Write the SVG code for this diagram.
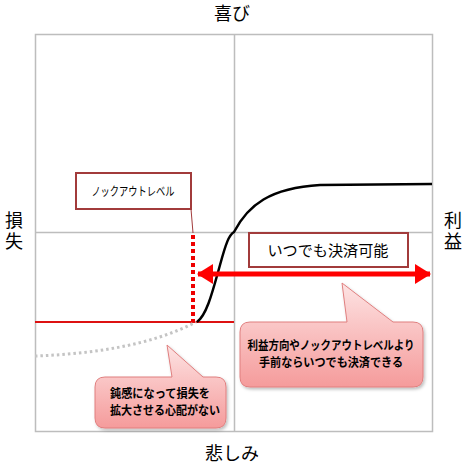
<svg xmlns="http://www.w3.org/2000/svg" width="466" height="466" viewBox="0 0 466 466">
<defs>
<linearGradient id="pink" x1="0" y1="0" x2="0" y2="1">
<stop offset="0" stop-color="#fde3e3"/>
<stop offset="1" stop-color="#f59b9b"/>
</linearGradient>
<filter id="sh" x="-10%" y="-10%" width="130%" height="130%">
<feDropShadow dx="1.5" dy="2" stdDeviation="1.5" flood-color="#000" flood-opacity="0.25"/>
</filter>
<marker id="ah" viewBox="0 0 16 20" refX="15" refY="10" markerWidth="16" markerHeight="20" markerUnits="userSpaceOnUse" orient="auto-start-reverse">
<path d="M0,0 L16,10 L0,20 Z" fill="#ff0000"/>
</marker>
<style>
text{font-family:"Noto Sans CJK JP","Noto Sans",sans-serif;fill:#000}
.ax{font-size:18px}
.vt{font-size:18px;writing-mode:vertical-rl;letter-spacing:3px}
.grid{stroke:#bdbdbd;stroke-width:1.5;fill:none}
.box{fill:#fff;stroke:#a23b3b;stroke-width:2}
.call{fill:url(#pink);stroke:#e07f7f;stroke-width:1;filter:url(#sh)}
.ct{font-size:12px;font-weight:bold}
</style>
</defs>
<rect width="466" height="466" fill="#fff"/>
<g id="frame">
<rect class="grid" x="35.5" y="34.5" width="397" height="397"/>
<line class="grid" x1="234.5" y1="34.5" x2="234.5" y2="431.5"/>
<line class="grid" x1="35.5" y1="232.5" x2="432.5" y2="232.5"/>
</g>
<g id="axis-labels">
<text class="ax" x="232" y="20" text-anchor="middle">喜び</text>
<text class="ax" x="232" y="460" text-anchor="middle">悲しみ</text>
<text class="vt" x="14" y="211">損失</text>
<text class="vt" x="453" y="211">利益</text>
</g>
<g id="connectors">
<line x1="35" y1="322" x2="234" y2="322" stroke="#dd1111" stroke-width="2"/>
<path d="M35,356 C90,354 150,346 196,322" fill="none" stroke="#c4c4c4" stroke-width="3" stroke-dasharray="2.5 3"/>
<path d="M197,322 C207,315 213,290 220,265 C226,243 229,235 234,232 C248,205 270,188 320,185 L432,184" fill="none" stroke="#000" stroke-width="2.5"/>
<line x1="193" y1="235" x2="193" y2="322" stroke="#ee0000" stroke-width="4" stroke-dasharray="4 3"/>
<line x1="191" y1="209" x2="193" y2="233" stroke="#a23b3b" stroke-width="1"/>
<line x1="198" y1="274" x2="430" y2="274" stroke="#ff0000" stroke-width="5" marker-start="url(#ah)" marker-end="url(#ah)"/>
</g>
<g id="knockout">
<rect class="box" x="76" y="173" width="115" height="36"/>
<text x="133" y="196" font-size="12" text-anchor="middle" textLength="83" lengthAdjust="spacingAndGlyphs">ノックアウトレベル</text>
</g>
<g id="anytime">
<rect class="box" x="249" y="233" width="159" height="34"/>
<text x="328" y="256" font-size="15" text-anchor="middle" textLength="121" lengthAdjust="spacingAndGlyphs">いつでも決済可能</text>
</g>
<g id="callout-right">
<path class="call" d="M250,322 L347,322 L342,283 L393,322 L413,322 Q423,322 423,332 L423,377 Q423,387 413,387 L250,387 Q240,387 240,377 L240,332 Q240,322 250,322 Z"/>
<text class="ct" x="331" y="350" text-anchor="middle" textLength="167" lengthAdjust="spacingAndGlyphs">利益方向やノックアウトレベルより</text>
<text class="ct" x="331" y="367" text-anchor="middle" textLength="144" lengthAdjust="spacingAndGlyphs">手前ならいつでも決済できる</text>
</g>
<g id="callout-left">
<path class="call" d="M105,377 L172,377 L167,345 L203,377 L216,377 Q226,377 226,387 L226,418 Q226,428 216,428 L105,428 Q95,428 95,418 L95,387 Q95,377 105,377 Z"/>
<text class="ct" x="160" y="398" text-anchor="middle" textLength="100" lengthAdjust="spacingAndGlyphs">鈍感になって損失を</text>
<text class="ct" x="165" y="415" text-anchor="middle" textLength="110" lengthAdjust="spacingAndGlyphs">拡大させる心配がない</text>
</g>
</svg>
